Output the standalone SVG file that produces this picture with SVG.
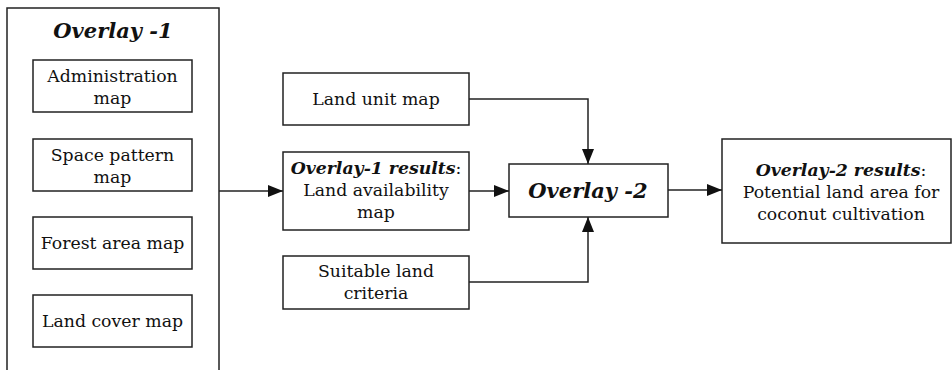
<svg xmlns="http://www.w3.org/2000/svg" width="952" height="370" viewBox="0 0 952 370">
<style>
.box{fill:#fff;stroke:#222;stroke-width:1.5}
.t{font-family:"DejaVu Serif","Liberation Serif",serif;font-size:17.3px;fill:#111;text-anchor:middle}
.b{font-weight:bold;font-style:italic}
.h{font-family:"DejaVu Serif","Liberation Serif",serif;font-size:21px;font-weight:bold;font-style:italic;fill:#111;text-anchor:middle}
.c{fill:none;stroke:#222;stroke-width:1.5}
</style>
<defs>
<marker id="ah" markerWidth="16" markerHeight="12" refX="15" refY="6" orient="auto" markerUnits="userSpaceOnUse">
<path d="M0,0 L15,6 L0,12 Z" fill="#111"/>
</marker>
</defs>
<rect width="952" height="370" fill="#fff"/>
<g id="overlay1">
<rect class="box" x="7" y="8" width="212" height="372"/>
<text class="h" x="113" y="38">Overlay -1</text>
</g>
<g id="admin">
<rect class="box" x="33" y="60" width="159" height="52"/>
<text class="t" x="112.5" y="82">Administration</text>
<text class="t" x="112.5" y="104">map</text>
</g>
<g id="space">
<rect class="box" x="33" y="139" width="159" height="52"/>
<text class="t" x="112.5" y="161">Space pattern</text>
<text class="t" x="112.5" y="183">map</text>
</g>
<g id="forest">
<rect class="box" x="33" y="217" width="159" height="52"/>
<text class="t" x="112.5" y="249">Forest area map</text>
</g>
<g id="landcover">
<rect class="box" x="33" y="295" width="159" height="52"/>
<text class="t" x="112.5" y="327">Land cover map</text>
</g>
<g id="landunit">
<rect class="box" x="283" y="73" width="186" height="52"/>
<text class="t" x="376" y="105">Land unit map</text>
</g>
<g id="results1">
<rect class="box" x="283" y="152" width="186" height="78"/>
<text class="t" x="376" y="174"><tspan class="b">Overlay-1 results</tspan>:</text>
<text class="t" x="376" y="196">Land availability</text>
<text class="t" x="376" y="218">map</text>
</g>
<g id="suitable">
<rect class="box" x="283" y="256" width="186" height="53"/>
<text class="t" x="376" y="277">Suitable land</text>
<text class="t" x="376" y="299">criteria</text>
</g>
<g id="overlay2">
<rect class="box" x="509" y="164" width="159" height="53"/>
<text class="h" x="588" y="198">Overlay -2</text>
</g>
<g id="results2">
<rect class="box" x="722" y="139" width="229" height="104"/>
<text class="t" x="841" y="176"><tspan class="b">Overlay-2 results</tspan>:</text>
<text class="t" x="841" y="198">Potential land area for</text>
<text class="t" x="841" y="220">coconut cultivation</text>
</g>
<g id="connectors">
<path class="c" d="M219,191 H283" marker-end="url(#ah)"/>
<path class="c" d="M469,191 H509" marker-end="url(#ah)"/>
<path class="c" d="M469,99 H588 V164" marker-end="url(#ah)"/>
<path class="c" d="M469,282 H588 V217" marker-end="url(#ah)"/>
<path class="c" d="M668,190 H722" marker-end="url(#ah)"/>
</g>
</svg>
